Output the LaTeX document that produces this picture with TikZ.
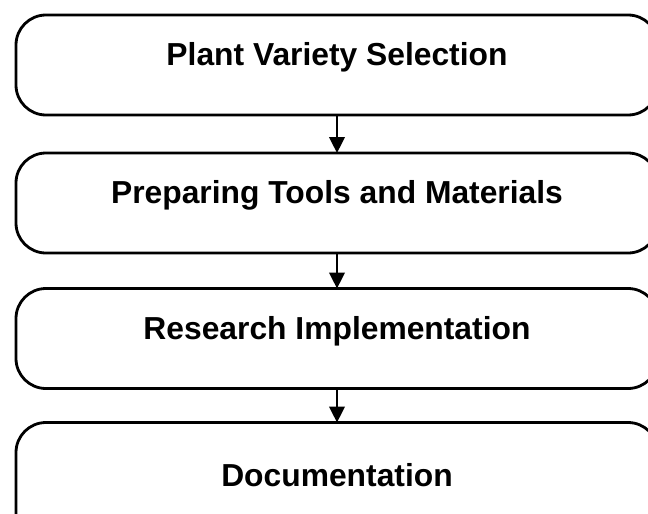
\documentclass[tikz,border=0pt]{standalone}
\usepackage{fontspec}
\setmainfont{Liberation Sans}
\usetikzlibrary{arrows.meta}
\tikzset{
  stepbox/.style={draw=black, line width=2.8pt, rounded corners=30pt,
    minimum width=642pt, minimum height=100pt, outer sep=0pt,
    inner ysep=0pt, text height=23pt, text depth=21.5pt,
    font=\fontsize{31.8}{38}\selectfont\bfseries},
  flow/.style={draw=black, line width=2.6pt,
    -{Triangle[length=16pt,width=15.5pt]}}
}
\begin{document}
\begin{tikzpicture}[x=1pt,y=-1pt]
  \useasboundingbox (0,0) rectangle (648,514);
  \clip (0,0) rectangle (648,514);
  \node[stepbox] (select) at (337,65) {Plant Variety Selection};
  \node[stepbox] (prepare) at (337,203) {Preparing Tools and Materials};
  \node[stepbox] (research) at (337,338.5) {Research Implementation};
  \node[stepbox, minimum height=127pt] (docs) at (337,486) {Documentation};
  \draw[flow] (select) -- (prepare);
  \draw[flow] (prepare) -- (research);
  \draw[flow] (research) -- (docs);
\end{tikzpicture}
\end{document}
